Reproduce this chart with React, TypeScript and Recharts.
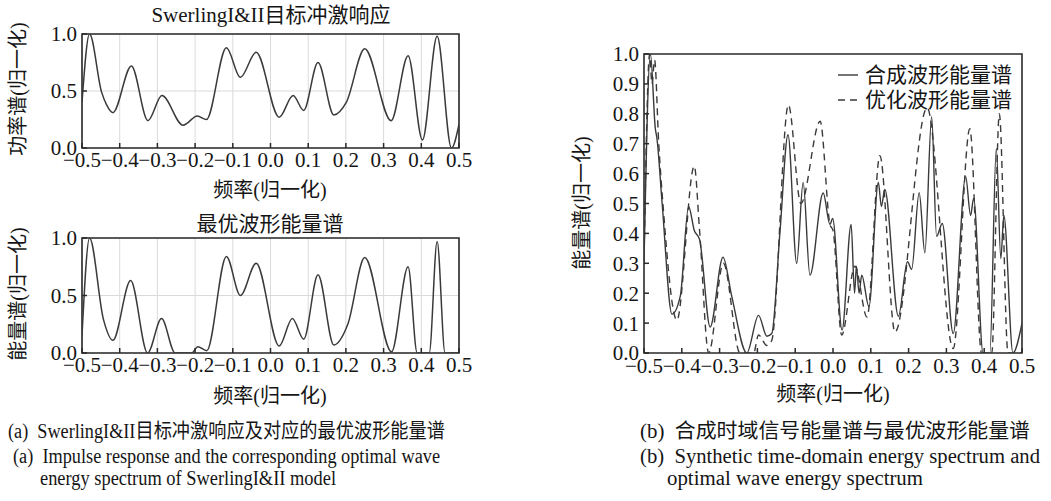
import React from 'react';
import { LineChart, Line, XAxis, YAxis, CartesianGrid, ReferenceArea } from 'recharts';

// ---------- data ----------
const xTicks = [-0.5, -0.4, -0.3, -0.2, -0.1, 0, 0.1, 0.2, 0.3, 0.4, 0.5];
const yTicksSmall = [0, 0.5, 1];
const yTicksBig = [0, 0.1, 0.2, 0.3, 0.4, 0.5, 0.6, 0.7, 0.8, 0.9, 1];

// (a) top: Swerling I&II impulse response (power spectrum)
const impulseX = [-0.5, -0.48, -0.448, -0.435, -0.418, -0.369, -0.325, -0.288, -0.232, -0.194, -0.17, -0.117, -0.08, -0.038, 0.023, 0.06, 0.088, 0.126, 0.168, 0.201, 0.25, 0.32, 0.365, 0.403, 0.442, 0.48, 0.5];
const impulseY = [0.4, 1.0, 0.49, 0.38, 0.31, 0.72, 0.24, 0.46, 0.2, 0.28, 0.25, 0.88, 0.62, 0.84, 0.27, 0.46, 0.33, 0.75, 0.29, 0.4, 0.87, 0.24, 0.81, 0.07, 0.98, 0.0, 0.21];

// (a) bottom: optimal waveform energy spectrum
const optimalX = [-0.5, -0.48, -0.443, -0.418, -0.371, -0.326, -0.289, -0.253, -0.209, -0.193, -0.169, -0.117, -0.08, -0.038, 0.023, 0.058, 0.088, 0.126, 0.168, 0.205, 0.25, 0.321, 0.365, 0.389, 0.421, 0.442, 0.463, 0.5];
const optimalY = [0.15, 1.0, 0.29, 0.11, 0.63, 0.0, 0.3, 0.0, 0.0, 0.055, 0.02, 0.84, 0.5, 0.78, 0.06, 0.3, 0.12, 0.68, 0.07, 0.25, 0.83, 0.01, 0.75, 0.0, 0.0, 0.97, 0.0, 0.0];

// (b) synthetic time-domain energy spectrum (solid)
const synthX = [-0.5, -0.483, -0.47, -0.466, -0.452, -0.426, -0.404, -0.382, -0.367, -0.353, -0.325, -0.291, -0.268, -0.228, -0.197, -0.175, -0.162, -0.14, -0.119, -0.096, -0.079, -0.061, -0.026, -0.008, -0.001, 0.024, 0.048, 0.057, 0.062, 0.069, 0.076, 0.095, 0.12, 0.128, 0.137, 0.173, 0.197, 0.208, 0.228, 0.243, 0.261, 0.274, 0.289, 0.318, 0.351, 0.364, 0.372, 0.397, 0.415, 0.432, 0.444, 0.452, 0.476, 0.5];
const synthY = [0.3, 1.0, 0.75, 0.72, 0.5, 0.13, 0.19, 0.49, 0.41, 0.38, 0.087, 0.32, 0.19, 0.0, 0.126, 0.056, 0.065, 0.41, 0.73, 0.3, 0.57, 0.26, 0.535, 0.43, 0.45, 0.077, 0.43, 0.2, 0.29, 0.2, 0.26, 0.155, 0.57, 0.49, 0.547, 0.123, 0.305, 0.28, 0.536, 0.335, 0.79, 0.39, 0.433, 0.065, 0.59, 0.46, 0.517, 0.0, 0.0, 0.684, 0.316, 0.46, 0.0, 0.1];

// (b) optimized waveform energy spectrum (dashed)
const dashX = [-0.5, -0.485, -0.479, -0.472, -0.461, -0.45, -0.413, -0.367, -0.353, -0.329, -0.29, -0.246, -0.21, -0.197, -0.175, -0.162, -0.118, -0.085, -0.034, -0.008, 0.0, 0.023, 0.058, 0.09, 0.124, 0.164, 0.249, 0.318, 0.362, 0.393, 0.42, 0.44, 0.463, 0.5];
const dashY = [0.3, 1.0, 0.9, 0.98, 0.7, 0.5, 0.11, 0.625, 0.41, 0.0, 0.3, 0.0, 0.0, 0.06, 0.025, 0.042, 0.83, 0.5, 0.775, 0.43, 0.41, 0.06, 0.29, 0.12, 0.66, 0.07, 0.82, 0.015, 0.75, 0.0, 0.0, 0.8, 0.0, 0.0];

const legendLabels = ['合成波形能量谱', '优化波形能量谱'];

// ---------- helpers ----------
const toPoints = (xs: number[], ys: number[]) => xs.map((x, i) => ({ x, y: ys[i] }));
const fmt = (v: number) => {
  const s = Math.abs(v) < 1e-9 ? '0.0' : v.toFixed(1);
  return s.replace('-', '\u2212');
};

const FONT = "'Liberation Serif', 'Times New Roman', 'Noto Sans CJK SC', serif";
const INK = '#2a2a2a';
const LINE = '#3a3a3a';

const tickStyle = { fill: '#151515', fontSize: 21, fontFamily: FONT };

function SmallChart({ data, plotTop, plotBottom }: { data: { x: number; y: number }[]; plotTop: number; plotBottom: number }) {
  const mt = 26;
  const h = plotBottom - plotTop + mt + 60;
  return (
    <div style={{ position: 'absolute', left: 8, top: plotTop - mt, width: 470, height: h }}>
      <LineChart width={470} height={h} data={data} margin={{ top: mt, right: 18, bottom: 30, left: 0 }}>
        <CartesianGrid yAxisId="l" stroke="#dadada" strokeWidth={1} />
        <XAxis
          dataKey="x"
          type="number"
          domain={[-0.5, 0.5]}
          ticks={xTicks}
          interval={0}
          tickFormatter={fmt}
          height={30}
          tickSize={-5}
          tickMargin={9}
          axisLine={false}
          tickLine={{ stroke: INK, strokeWidth: 1.5 }}
          tick={tickStyle}
          allowDataOverflow
        />
        <YAxis
          yAxisId="l"
          type="number"
          domain={[0, 1]}
          ticks={yTicksSmall}
          interval={0}
          tickFormatter={fmt}
          width={74}
          tickSize={-5}
          tickMargin={10}
          axisLine={false}
          tickLine={{ stroke: INK, strokeWidth: 1.5 }}
          tick={tickStyle}
          allowDataOverflow
        />
        <YAxis
          yAxisId="r"
          orientation="right"
          type="number"
          domain={[0, 1]}
          ticks={yTicksSmall}
          interval={0}
          width={1}
          tickSize={-5}
          tick={false}
          axisLine={false}
          tickLine={{ stroke: INK, strokeWidth: 1.5 }}
        />
        <ReferenceArea yAxisId="l" x1={-0.5} x2={0.5} y1={0} y2={1} fill="none" stroke={INK} strokeWidth={1.6} />
        <Line yAxisId="l" dataKey="y" type="monotone" stroke={LINE} strokeWidth={1.5} dot={false} isAnimationActive={false} />
      </LineChart>
    </div>
  );
}

function BigChart() {
  return (
    <div style={{ position: 'absolute', left: 560, top: 30, width: 480, height: 360 }}>
      <LineChart width={480} height={360} margin={{ top: 24, right: 18, bottom: 17, left: 0 }}>
        <XAxis
          dataKey="x"
          type="number"
          domain={[-0.5, 0.5]}
          ticks={xTicks}
          interval={0}
          tickFormatter={fmt}
          height={20}
          tickSize={-5}
          tickMargin={10}
          axisLine={false}
          tickLine={{ stroke: INK, strokeWidth: 1.5 }}
          tick={tickStyle}
          allowDataOverflow
        />
        <YAxis
          type="number"
          domain={[0, 1]}
          ticks={yTicksBig}
          interval={0}
          tickFormatter={fmt}
          width={84}
          tickSize={-5}
          tickMargin={10}
          axisLine={false}
          tickLine={{ stroke: INK, strokeWidth: 1.5 }}
          tick={tickStyle}
          allowDataOverflow
        />
        <ReferenceArea x1={-0.5} x2={0.5} y1={0} y2={1} fill="none" stroke={INK} strokeWidth={1.6} />
        <Line data={toPoints(dashX, dashY)} dataKey="y" type="monotone" stroke={LINE} strokeWidth={1.4} strokeDasharray="7 5" dot={false} isAnimationActive={false} />
        <Line data={toPoints(synthX, synthY)} dataKey="y" type="monotone" stroke={LINE} strokeWidth={1.4} dot={false} isAnimationActive={false} />
      </LineChart>
    </div>
  );
}

function Overlay() {
  const t = { fontFamily: FONT, fill: '#151515' } as const;
  const fit = { lengthAdjust: 'spacingAndGlyphs' as const };
  return (
    <svg width={1051} height={501} style={{ position: 'absolute', left: 0, top: 0, pointerEvents: 'none' }}>
      {/* titles */}
      <text x={271} y={15} fontSize={21} textAnchor="middle" dominantBaseline="central" {...t}>SwerlingI&amp;II目标冲激响应</text>
      <text x={270} y={224} fontSize={21} textAnchor="middle" dominantBaseline="central" {...t}>最优波形能量谱</text>
      {/* x labels */}
      <text x={270} y={190} fontSize={20} textAnchor="middle" dominantBaseline="central" {...t}>频率(归一化)</text>
      <text x={270} y={396} fontSize={20} textAnchor="middle" dominantBaseline="central" {...t}>频率(归一化)</text>
      <text x={833} y={394} fontSize={20} textAnchor="middle" dominantBaseline="central" {...t}>频率(归一化)</text>
      {/* y labels */}
      <text x={0} y={0} fontSize={20} textAnchor="middle" dominantBaseline="central" transform="translate(18,89) rotate(-90)" {...t}>功率谱(归一化)</text>
      <text x={0} y={0} fontSize={20} textAnchor="middle" dominantBaseline="central" transform="translate(18,294) rotate(-90)" {...t}>能量谱(归一化)</text>
      <text x={0} y={0} fontSize={20} textAnchor="middle" dominantBaseline="central" transform="translate(582,203) rotate(-90)" {...t}>能量谱(归一化)</text>
      {/* legend */}
      <line x1={838} x2={858} y1={75} y2={75} stroke={LINE} strokeWidth={1.4} />
      <text x={865} y={75} fontSize={21} dominantBaseline="central" {...t}>{legendLabels[0]}</text>
      <line x1={838} x2={858} y1={100} y2={100} stroke={LINE} strokeWidth={1.4} strokeDasharray="7 5" />
      <text x={865} y={100} fontSize={21} dominantBaseline="central" {...t}>{legendLabels[1]}</text>
      {/* captions */}
      <text x={8} y={438} fontSize={20} textLength={437} {...fit} {...t} xmlSpace="preserve">(a)  SwerlingI&amp;II目标冲激响应及对应的最优波形能量谱</text>
      <text x={13} y={463} fontSize={20} textLength={427} {...fit} {...t} xmlSpace="preserve">(a)  Impulse response and the corresponding optimal wave</text>
      <text x={40} y={485} fontSize={20} textLength={296} {...fit} {...t}>energy spectrum of SwerlingI&amp;II model</text>
      <text x={640} y={438} fontSize={20} textLength={390} {...fit} {...t} xmlSpace="preserve">(b)  合成时域信号能量谱与最优波形能量谱</text>
      <text x={640} y={463} fontSize={20} textLength={400} {...fit} {...t} xmlSpace="preserve">(b)  Synthetic time-domain energy spectrum and</text>
      <text x={667} y={485} fontSize={20} textLength={256} {...fit} {...t}>optimal wave energy spectrum</text>
    </svg>
  );
}

export default function App() {
  return (
    <div style={{ position: 'absolute', left: 0, top: 0, width: 1051, height: 501, background: '#fff' }}>
      <SmallChart data={toPoints(impulseX, impulseY)} plotTop={34} plotBottom={148} />
      <SmallChart data={toPoints(optimalX, optimalY)} plotTop={238} plotBottom={353} />
      <BigChart />
      <Overlay />
    </div>
  );
}
